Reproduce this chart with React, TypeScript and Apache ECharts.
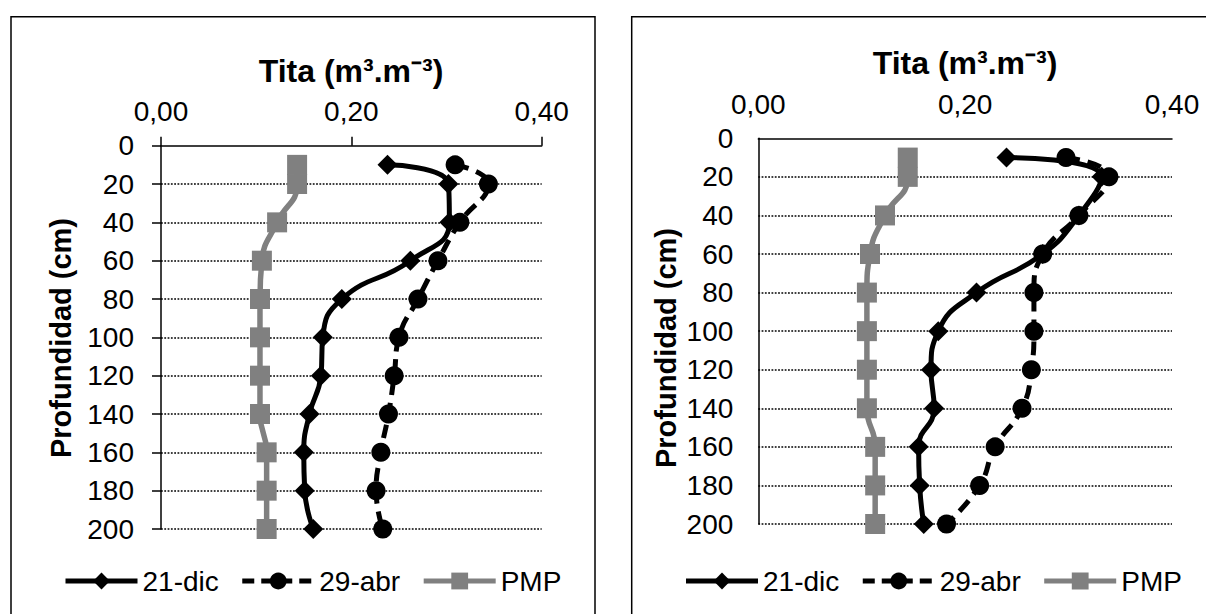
import React, { useEffect, useRef } from "react";
import * as echarts from "echarts";

const depths = [10, 20, 40, 60, 80, 100, 120, 140, 160, 180, 200];
const seriesNames = ["21-dic", "29-abr", "PMP"];
const xTitle = "Tita (m³.m⁻³)";
const yTitle = "Profundidad (cm)";

// Left chart
const dicLeft = [0.238, 0.302, 0.303, 0.262, 0.19, 0.17, 0.168, 0.156, 0.15, 0.151, 0.16];
const abrLeft = [0.309, 0.344, 0.314, 0.291, 0.27, 0.25, 0.245, 0.239, 0.231, 0.226, 0.233];
const pmpLeft = [0.143, 0.143, 0.122, 0.106, 0.104, 0.104, 0.104, 0.104, 0.111, 0.111, 0.111];

// Right chart
const dicRight = [0.24, 0.332, 0.31, 0.275, 0.211, 0.174, 0.167, 0.17, 0.155, 0.156, 0.16];
const abrRight = [0.2975, 0.339, 0.31, 0.275, 0.2665, 0.2665, 0.264, 0.255, 0.229, 0.214, 0.182];
const pmpRight = [0.1445, 0.1445, 0.1225, 0.108, 0.105, 0.105, 0.105, 0.105, 0.113, 0.113, 0.113];

const FONT = "'Liberation Sans', Arial, sans-serif";

const pairs = (vals: number[]) => vals.map((v, i) => [v, depths[i]]);

function xAxisFor(grid: number, ticks: boolean) {
  return {
    gridIndex: grid,
    type: "value",
    position: "top",
    min: 0,
    max: 0.4,
    interval: 0.2,
    axisLine: { show: true, onZero: false, lineStyle: { color: "#000", width: 1.5 } },
    axisTick: { show: ticks, inside: false, length: 9, lineStyle: { color: "#000", width: 1.5 } },
    axisLabel: {
      fontSize: 28,
      color: "#000",
      fontFamily: FONT,
      margin: 20,
      formatter: (v: number) => v.toFixed(2).replace(".", ","),
    },
    splitLine: { show: false },
  };
}

function yAxisFor(grid: number, ticks: boolean, margin: number) {
  return {
    gridIndex: grid,
    type: "value",
    inverse: true,
    min: 0,
    max: 200,
    interval: 20,
    axisLine: { show: true, onZero: false, lineStyle: { color: "#000", width: 1.5 } },
    axisTick: { show: ticks, inside: false, length: 9, lineStyle: { color: "#000", width: 1.5 } },
    axisLabel: { fontSize: 28, color: "#000", fontFamily: FONT, margin },
    splitLine: {
      show: true,
      showMinLine: false,
      lineStyle: { color: "#000", width: 1.5, type: [1.8, 1.5] },
    },
  };
}

function seriesFor(idx: number, dic: number[], abr: number[], pmp: number[]) {
  const common = {
    type: "line",
    xAxisIndex: idx,
    yAxisIndex: idx,
    smooth: 0.5,
    showSymbol: true,
    emphasis: { disabled: true },
  };
  return [
    {
      ...common,
      name: seriesNames[0],
      data: pairs(dic),
      symbol: "diamond",
      symbolSize: 20,
      itemStyle: { color: "#000" },
      lineStyle: { color: "#000", width: 5 },
    },
    {
      ...common,
      name: seriesNames[1],
      data: pairs(abr),
      symbol: "circle",
      symbolSize: 19,
      itemStyle: { color: "#000" },
      lineStyle: { color: "#000", width: 5, type: [14, 8] },
    },
    {
      ...common,
      name: seriesNames[2],
      data: pairs(pmp),
      symbol: "rect",
      symbolSize: 20,
      itemStyle: { color: "#808080" },
      lineStyle: { color: "#808080", width: 5.5 },
    },
  ];
}

function legendFor(left: number) {
  return {
    left,
    top: 567,
    padding: 0,
    orient: "horizontal",
    itemWidth: 72,
    itemHeight: 21,
    itemGap: 21,
    selectedMode: false,
    textStyle: { fontSize: 28, color: "#000", fontFamily: FONT },
    lineStyle: { width: 5 },
    data: [
      { name: seriesNames[0], lineStyle: { width: 5, type: "solid" } },
      { name: seriesNames[1], lineStyle: { width: 5, type: [12, 7] } },
      { name: seriesNames[2], lineStyle: { width: 5, type: "solid" } },
    ],
  };
}

export default function App() {
  const ref = useRef<HTMLDivElement>(null);

  useEffect(() => {
    if (!ref.current) return;
    const chart = echarts.init(ref.current, null, { renderer: "svg" });
    const titleStyle = {
      font: `bold 32px ${FONT}`,
      fill: "#000",
      textAlign: "center",
      textVerticalAlign: "middle",
    };
    const nameStyle = {
      font: `bold 29px ${FONT}`,
      fill: "#000",
      textAlign: "center",
      textVerticalAlign: "middle",
    };
    const option: any = {
      animation: false,
      backgroundColor: "#fff",
      grid: [
        { left: 161, top: 145.7, width: 380.7, height: 383.3, containLabel: false },
        { left: 758.3, top: 138.3, width: 413.7, height: 385.7, containLabel: false },
      ],
      xAxis: [xAxisFor(0, true), xAxisFor(1, false)],
      yAxis: [yAxisFor(0, true, 27), yAxisFor(1, false, 25)],
      legend: [legendFor(63), legendFor(683.5)],
      series: [
        ...seriesFor(0, dicLeft, abrLeft, pmpLeft),
        ...seriesFor(1, dicRight, abrRight, pmpRight),
      ],
      graphic: [
        {
          type: "rect",
          shape: { x: 11, y: 16.7, width: 584, height: 620 },
          style: { fill: "none", stroke: "#000", lineWidth: 1.5 },
          silent: true,
        },
        {
          type: "rect",
          shape: { x: 631.7, y: 16.7, width: 620, height: 620 },
          style: { fill: "none", stroke: "#000", lineWidth: 1.5 },
          silent: true,
        },
        { type: "text", x: 351, y: 70.6, style: { ...titleStyle, text: xTitle } },
        { type: "text", x: 965, y: 62.9, style: { ...titleStyle, text: xTitle } },
        { type: "text", x: 61, y: 338, rotation: Math.PI / 2, style: { ...nameStyle, text: yTitle } },
        { type: "text", x: 666, y: 348, rotation: Math.PI / 2, style: { ...nameStyle, text: yTitle } },
      ],
    };
    chart.setOption(option);
    return () => chart.dispose();
  }, []);

  return (
    <div
      ref={ref}
      style={{ position: "fixed", left: 0, top: 0, width: 1206, height: 614, background: "#fff" }}
    />
  );
}
